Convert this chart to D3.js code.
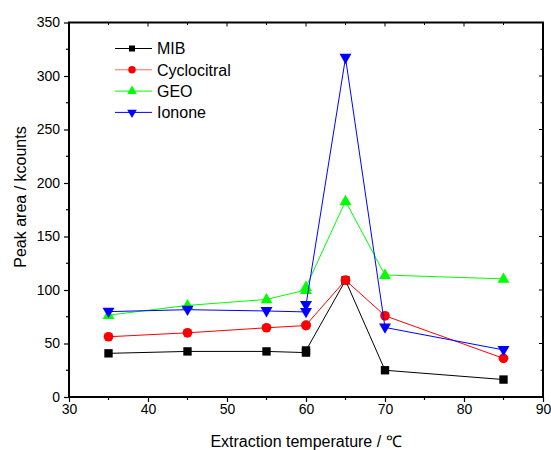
<!DOCTYPE html>
<html><head><meta charset="utf-8">
<script src="https://cdn.jsdelivr.net/npm/d3@7"></script>
<style>body{margin:0;background:#fff}svg{display:block;font-family:Arial,"Liberation Sans",sans-serif}</style>
</head><body>
<svg id="c" width="551" height="450"></svg>
<script>
const temps = [35, 45, 55, 60, 60, 65, 70, 85];
const mib = [40.8, 42.6, 42.6, 41.5, 43.5, 109, 25, 16.3];
const cyclocitral = [56.3, 60, 64.7, 66.8, 67.2, 109.2, 75.9, 36.1];
const geo = [76.5, 85.6, 91.2, 100, 102.8, 183, 114, 110.4];
const ionone = [79.8, 81.6, 80.4, 79.5, 86, 317, 65, 44];
const seriesNames = ["MIB", "Cyclocitral", "GEO", "Ionone"];
const xTicks = [30, 40, 50, 60, 70, 80, 90];
const yTicks = [0, 50, 100, 150, 200, 250, 300, 350];
const xTitle = "Extraction temperature / \u2103";
const yTitle = "Peak area / kcounts";

const svg = d3.select("#c");
const L = 69, R = 543, T = 22.5, B = 397;
const x = d3.scaleLinear().domain([30, 90]).range([L, R]);
const y = d3.scaleLinear().domain([0, 350]).range([B, T]);

const series = [
  {name: seriesNames[0], vals: mib, color: "#000000", sym: d3.symbolSquare, size: 70, lsize: 36},
  {name: seriesNames[1], vals: cyclocitral, color: "#ff0000", sym: d3.symbolCircle, size: 74, lsize: 44},
  {name: seriesNames[2], vals: geo, color: "#00ff00", sym: d3.symbolTriangle, size: 62, lsize: 40, dy: 0.5},
  {name: seriesNames[3], vals: ionone, color: "#0000ff", sym: d3.symbolTriangle, size: 62, lsize: 40, rot: 180, dy: -0.5}
];

// axes
const minorX = d3.range(35, 90, 10);
const axB = svg.append("g").attr("transform", `translate(0,${B})`)
  .call(d3.axisBottom(x).tickValues(xTicks).tickSize(5).tickSizeOuter(0).tickFormat(d3.format("d")));
axB.select(".domain").remove();
axB.selectAll(".tick line").attr("stroke-width", 1.2);
axB.selectAll("text").attr("font-size", 14).attr("dy", "0.9em").attr("y", 4).attr("fill", "#000");
axB.selectAll(".minor").data(minorX).enter().append("line")
  .attr("x1", d => x(d)).attr("x2", d => x(d)).attr("y1", 0).attr("y2", 3).attr("stroke", "#000").attr("stroke-width", 1.2);

const minorY = d3.range(25, 350, 50);
const axL = svg.append("g").attr("transform", `translate(${L},0)`)
  .call(d3.axisLeft(y).tickValues(yTicks).tickSize(5).tickSizeOuter(0).tickPadding(4));
axL.select(".domain").remove();
axL.selectAll(".tick line").attr("stroke-width", 1.2);
axL.selectAll("text").attr("font-size", 14).attr("fill", "#000");
axL.selectAll(".minor").data(minorY).enter().append("line")
  .attr("x1", 0).attr("x2", -3).attr("y1", d => y(d)).attr("y2", d => y(d)).attr("stroke", "#000").attr("stroke-width", 1.2);

// top ticks (inward)
const topT = d3.range(30, 91, 5);
svg.append("g").selectAll("line").data(topT).enter().append("line")
  .attr("x1", d => x(d)).attr("x2", d => x(d)).attr("y1", T).attr("y2", d => T + (d % 10 === 0 ? 4 : 2.5))
  .attr("stroke", "#000").attr("stroke-width", 1);
// right ticks (inward)
const rightT = d3.range(0, 351, 25);
svg.append("g").selectAll("line").data(rightT).enter().append("line")
  .attr("x1", R).attr("x2", d => R - (d % 50 === 0 ? 4 : 2.5)).attr("y1", d => y(d)).attr("y2", d => y(d))
  .attr("stroke", "#000").attr("stroke-width", 1);

// frame
svg.append("rect").attr("x", L).attr("y", T).attr("width", R - L).attr("height", B - T)
  .attr("fill", "none").attr("stroke", "#000").attr("stroke-width", 2);

// titles
svg.append("text").attr("x", 306).attr("y", 447).attr("text-anchor", "middle")
  .attr("font-size", 16).text(xTitle);
svg.append("text").attr("transform", "translate(26,197) rotate(-90)").attr("text-anchor", "middle")
  .attr("font-size", 16).text(yTitle);

// series
const line = d3.line().x(d => x(d[0])).y(d => y(d[1]));
series.forEach(s => {
  const pts = temps.map((t, i) => [t, s.vals[i]]);
  svg.append("path").datum(pts).attr("d", line).attr("fill", "none").attr("stroke", s.color).attr("stroke-width", 1);
  svg.append("g").selectAll("path").data(pts).enter().append("path")
    .attr("d", d3.symbol().type(s.sym).size(s.size))
    .attr("transform", d => `translate(${x(d[0])},${y(d[1]) + (s.dy || 0)}) rotate(${s.rot || 0})`)
    .attr("fill", s.color);
});

// legend
const lg = svg.append("g");
series.forEach((s, i) => {
  const yy = 48.5 + i * 21.3;
  lg.append("line").attr("x1", 115).attr("x2", 152).attr("y1", yy).attr("y2", yy)
    .attr("stroke", s.color).attr("stroke-width", 1).attr("stroke-opacity", i === 1 ? 0.6 : 1);
  lg.append("path").attr("d", d3.symbol().type(s.sym).size(s.lsize)())
    .attr("transform", `translate(132,${yy}) rotate(${s.rot || 0})`).attr("fill", s.color);
  lg.append("text").attr("x", 157).attr("y", yy).attr("dy", "0.36em").attr("font-size", 16).text(s.name);
});
</script>
</body></html>
